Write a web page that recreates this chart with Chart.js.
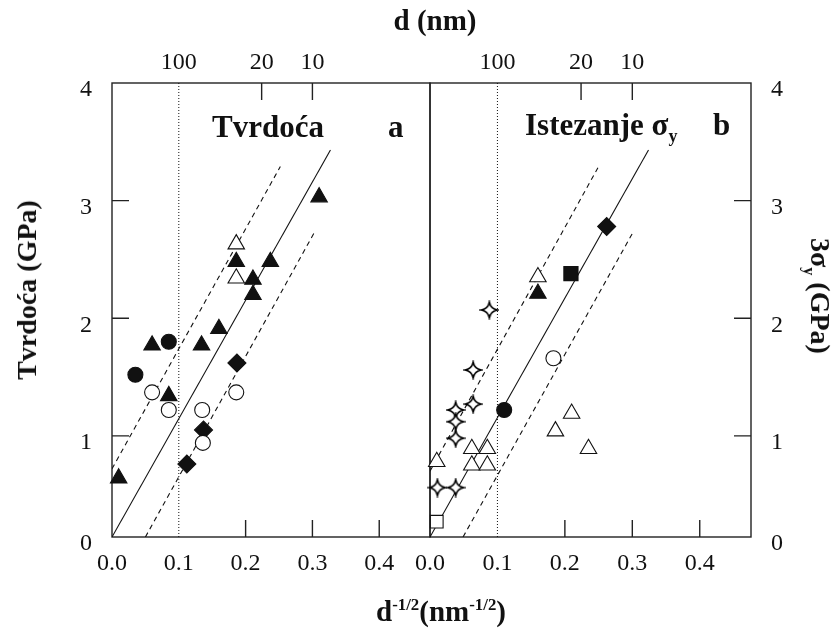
<!DOCTYPE html>
<html>
<head>
<meta charset="utf-8">
<script src="https://cdn.jsdelivr.net/npm/chart.js@4.4.1/dist/chart.umd.min.js"></script>
<style>
  html, body { margin: 0; padding: 0; background: #fff; }
  #wrap { position: relative; width: 837px; height: 634px; overflow: hidden;
          font-family: "Liberation Serif", "Times New Roman", serif; color: #111; }
  canvas { position: absolute; top: 0; }
  #panelA { left: 0; }
  #panelB { left: 400px; }
  .t { position: absolute; font-weight: bold; white-space: nowrap; line-height: 1; }
  .t sup, .t sub { font-size: 58%; line-height: 0; }
</style>
</head>
<body>
<div id="wrap">
  <canvas id="panelA" width="431" height="634"></canvas>
  <canvas id="panelB" width="437" height="634"></canvas>

  <div class="t" style="left:435px; top:6px; font-size:29px; transform:translateX(-50%)">d (nm)</div>
  <div class="t" style="left:441px; top:597px; font-size:29px; transform:translateX(-50%)">d<sup>-1/2</sup>(nm<sup>-1/2</sup>)</div>
  <div class="t" style="left:27px; top:290px; font-size:28px; transform:translate(-50%,-50%) rotate(-90deg)">Tvrdoća (GPa)</div>
  <div class="t" style="left:820px; top:296px; font-size:28px; transform:translate(-50%,-50%) rotate(90deg)">3σ<sub>y</sub> (GPa)</div>
  <div class="t" style="left:212px; top:111px; font-size:31px">Tvrdoća</div>
  <div class="t" style="left:388px; top:111px; font-size:31px">a</div>
  <div class="t" style="left:525px; top:109px; font-size:31px">Istezanje σ<sub>y</sub></div>
  <div class="t" style="left:713px; top:109px; font-size:31px">b</div>
</div>

<script>
// axis ranges and ticks
const xMax = 0.476;
const yMin = 0.14;
const yMax = 4;
const xTicks = [0, 0.1, 0.2, 0.3, 0.4];
const yTicks = [yMin, 1, 2, 3, 4];
const dTickPos = [0.1, 0.224, 0.3];
const dTickText = ['100', '20', '10'];
const innerX = [0.2, 0.3, 0.4];
const innerD = [0.224, 0.3];
const innerY = [1, 2, 3];

// panel a - hardness
const aTriFilled = [[0.310, 3.03], [0.186, 2.48], [0.237, 2.48], [0.211, 2.33], [0.211, 2.20],
                    [0.160, 1.91], [0.134, 1.77], [0.060, 1.77], [0.085, 1.34], [0.010, 0.64]];
const aTriOpen = [[0.186, 2.63], [0.186, 2.34]];
const aCircFilled = [[0.085, 1.80], [0.035, 1.52]];
const aCircOpen = [[0.060, 1.37], [0.085, 1.22], [0.135, 1.22], [0.136, 0.94], [0.186, 1.37]];
const aDiamond = [[0.187, 1.62], [0.137, 1.05], [0.112, 0.76]];
const aFit = [[0, 0.14], [0.327, 3.43]];
const aUpper = [[0, 0.72], [0.252, 3.29]];
const aLower = [[0.050, 0.14], [0.302, 2.72]];

// panel b - yield stress
const bDiamond = [[0.262, 2.78]];
const bSquare = [[0.209, 2.38]];
const bTriOpen = [[0.160, 2.35], [0.210, 1.19], [0.186, 1.04], [0.235, 0.89], [0.062, 0.89],
                  [0.085, 0.89], [0.062, 0.75], [0.085, 0.75], [0.010, 0.78]];
const bTriFilled = [[0.160, 2.21]];
const bCircOpen = [[0.183, 1.66]];
const bCircFilled = [[0.110, 1.22]];
const bSquareOpen = [[0.010, 0.27]];
const bStar = [[0.088, 2.07], [0.064, 1.56], [0.064, 1.27], [0.038, 1.22], [0.038, 1.12],
               [0.038, 0.98], [0.011, 0.56], [0.038, 0.56]];
const bFit = [[0, 0.14], [0.324, 3.43]];
const bUpper = [[0, 0.70], [0.249, 3.28]];
const bLower = [[0.049, 0.14], [0.300, 2.72]];

const d100 = [[0.1, yMin], [0.1, yMax]];

const ink = '#111';
const tickFont = { family: '"Liberation Serif", "Times New Roman", serif', size: 24 };

// four pointed star with concave sides
function starImage(r) {
  const s = Math.ceil(r * 2 + 4);
  const c = document.createElement('canvas');
  c.width = c.height = s;
  const g = c.getContext('2d');
  const m = s / 2;
  const inner = r * 0.22;
  g.beginPath();
  for (let i = 0; i <= 4; i++) {
    const a = i * Math.PI / 2 - Math.PI / 2;
    const tx = m + Math.cos(a) * r, ty = m + Math.sin(a) * r;
    if (i === 0) { g.moveTo(tx, ty); continue; }
    const am = a - Math.PI / 4;
    g.quadraticCurveTo(m + Math.cos(am) * inner, m + Math.sin(am) * inner, tx, ty);
  }
  g.closePath();
  g.fillStyle = '#fff';
  g.fill();
  g.strokeStyle = '#000';
  g.lineWidth = 1.5;
  g.stroke();
  return c;
}

function pts(arr) {
  return arr.map(([x, y]) => ({ x, y }));
}

function marks(arr, style, fill, r) {
  return {
    data: pts(arr), pointStyle: style, pointRadius: r, pointHoverRadius: r,
    backgroundColor: fill, borderColor: ink, borderWidth: 1.1,
    showLine: false, clip: false, order: 0
  };
}

function line(arr, dash, width) {
  return {
    data: pts(arr), showLine: true, pointRadius: 0, pointHoverRadius: 0,
    borderColor: ink, borderWidth: width, borderDash: dash, fill: false, order: 5
  };
}

// frame and inward tick marks
const frameTicks = {
  id: 'frameTicks',
  beforeDatasetsDraw(chart, args, opts) {
    const { ctx, chartArea: a, scales } = chart;
    const len = 17;
    ctx.save();
    ctx.strokeStyle = '#222';
    ctx.lineWidth = 1.4;
    ctx.strokeRect(a.left, a.top, a.right - a.left, a.bottom - a.top);
    ctx.beginPath();
    innerX.forEach(v => {
      const x = scales.x.getPixelForValue(v);
      ctx.moveTo(x, a.bottom); ctx.lineTo(x, a.bottom - len);
    });
    innerD.forEach(v => {
      const x = scales.x.getPixelForValue(v);
      ctx.moveTo(x, a.top); ctx.lineTo(x, a.top + len);
    });
    innerY.forEach(v => {
      const y = scales.y.getPixelForValue(v);
      if (opts.side === 'left') { ctx.moveTo(a.left, y); ctx.lineTo(a.left + len, y); }
      else { ctx.moveTo(a.right, y); ctx.lineTo(a.right - len, y); }
    });
    ctx.stroke();
    ctx.restore();
  }
};

function panel(id, side, datasets) {
  const flat = { display: false, drawTicks: false };
  return new Chart(document.getElementById(id), {
    type: 'scatter',
    data: { datasets },
    plugins: [frameTicks],
    options: {
      responsive: false,
      animation: false,
      devicePixelRatio: 1,
      layout: {
        autoPadding: false,
        padding: side === 'left' ? { left: 0, right: 1, top: 0, bottom: 0 } : { left: 30, right: 0, top: 0, bottom: 0 }
      },
      plugins: {
        legend: { display: false },
        tooltip: { enabled: false },
        frameTicks: { side }
      },
      scales: {
        x: {
          type: 'linear', position: 'bottom', min: 0, max: xMax,
          afterBuildTicks: s => { s.ticks = xTicks.map(v => ({ value: v })); },
          afterFit: s => { s.height = 97; },
          grid: flat, border: { display: false },
          ticks: { callback: v => v.toFixed(1), font: tickFont, color: ink, padding: 12,
                   maxRotation: 0, autoSkip: false }
        },
        d: {
          type: 'linear', position: 'top', min: 0, max: xMax,
          afterBuildTicks: s => { s.ticks = dTickPos.map(v => ({ value: v })); },
          afterFit: s => { s.height = 83; },
          grid: flat, border: { display: false },
          ticks: { callback: (v, i) => dTickText[i], font: tickFont, color: ink, padding: 6,
                   maxRotation: 0, autoSkip: false }
        },
        y: {
          type: 'linear', position: side, min: yMin, max: yMax,
          afterBuildTicks: s => { s.ticks = yTicks.map(v => ({ value: v })); },
          afterFit: s => { s.width = side === 'left' ? 112 : 86; },
          grid: flat, border: { display: false },
          ticks: { callback: v => (v === yMin ? '0' : String(v)), font: tickFont, color: ink,
                   padding: 20, labelOffset: 7, autoSkip: false }
        }
      }
    }
  });
}

const star = starImage(8);

panel('panelA', 'left', [
  marks(aTriOpen, 'triangle', '#fff', 9.5),
  marks(aTriFilled, 'triangle', ink, 9.5),
  marks(aCircFilled, 'circle', ink, 7.5),
  marks(aCircOpen, 'circle', '#fff', 7.5),
  marks(aDiamond, 'rectRot', ink, 9),
  line(aFit, [], 1.1),
  line(aUpper, [5, 4], 1.1),
  line(aLower, [5, 4], 1.1),
  line(d100, [1, 2], 1)
]);

panel('panelB', 'right', [
  marks(bDiamond, 'rectRot', ink, 9),
  marks(bSquare, 'rect', ink, 10),
  marks(bTriOpen, 'triangle', '#fff', 9.5),
  marks(bTriFilled, 'triangle', ink, 9.5),
  marks(bCircOpen, 'circle', '#fff', 7.5),
  marks(bCircFilled, 'circle', ink, 7.5),
  marks(bSquareOpen, 'rect', '#fff', 9),
  marks(bStar, star, '#fff', 8),
  line(bFit, [], 1.1),
  line(bUpper, [5, 4], 1.1),
  line(bLower, [5, 4], 1.1),
  line(d100, [1, 2], 1)
]);
</script>
</body>
</html>
